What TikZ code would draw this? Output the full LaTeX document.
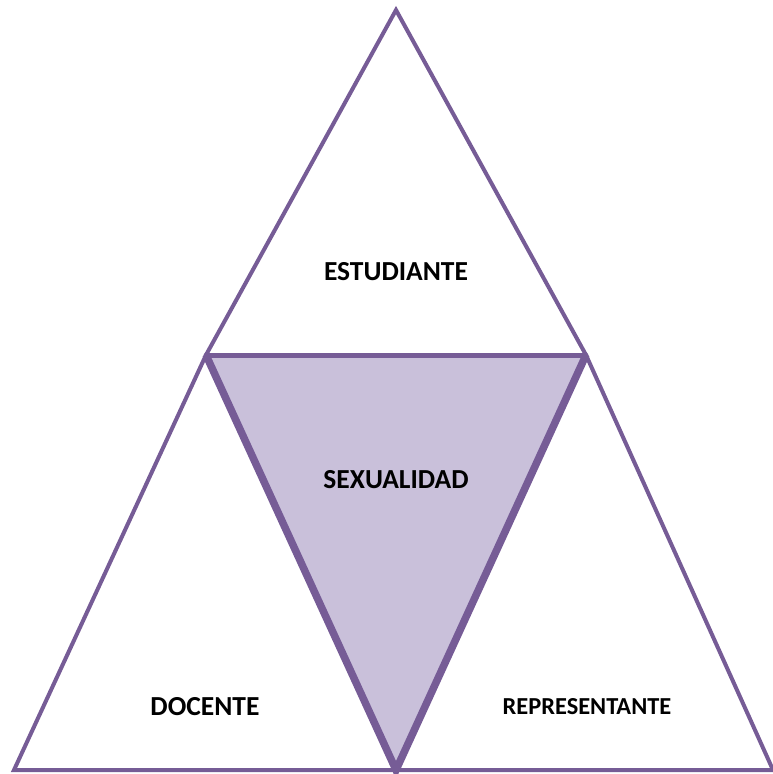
\documentclass[tikz,border=0pt]{standalone}
\usepackage{fontspec}
\setmainfont{Carlito}
\usepackage{tikz}
\definecolor{lila}{HTML}{765C96}
\definecolor{lilafill}{HTML}{C9C0DA}

\begin{document}
\begin{tikzpicture}[x=1pt,y=-1pt,font=\bfseries]
\useasboundingbox (0,0) rectangle (773,774);
\coordinate (T) at (396,10);
\coordinate (L) at (206,355);
\coordinate (R) at (586,355);
\coordinate (BL) at (14,770);
\coordinate (B) at (396,770);
\coordinate (BR) at (773,770);
\fill [lilafill] (L) -- (R) -- (B) -- cycle;
\draw [lila, line width=4pt] (L) -- (T) -- (R);
\draw [lila, line width=4pt] (L) -- (BL) -- (BR) -- (R);
\draw [lila, line width=7.5pt] (L) -- (B) -- (R);
\draw [lila, line width=5pt, line cap=round] (L) -- (R);
\node (estudiante) at (396,272) {\fontsize{27.5}{32}\selectfont ESTUDIANTE};
\node (sexualidad) at (396,480) {\fontsize{27.5}{32}\selectfont SEXUALIDAD};
\node (docente) at (205,707) {\fontsize{27.5}{32}\selectfont DOCENTE};
\node (representante) at (587,707) {\fontsize{24.4}{29}\selectfont REPRESENTANTE};
\end{tikzpicture}
\end{document}
